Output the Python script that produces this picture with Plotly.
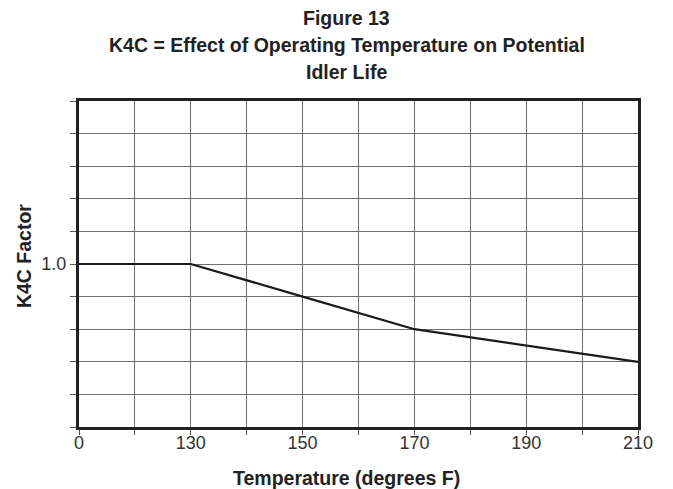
import numpy as np
import plotly.graph_objects as go

# ---- data ----
temps_f = [0, 130, 150, 170, 210]          # temperature (degrees F)
k4c_factor = [1.0, 1.0, 0.9, 0.8, 0.7]     # K4C factor

x_tick_temps = [0, 130, 150, 170, 190, 210]
x_tick_labels = ["0", "130", "150", "170", "190", "210"]

y_tick_vals = [0.5, 0.6, 0.7, 0.8, 0.9, 1.0, 1.1, 1.2, 1.3, 1.4, 1.5]
y_tick_text = ["", "", "", "", "", "1.0", "", "", "", "", ""]

# broken temperature scale: each labelled temperature sits at an even slot
label_slots = [0, 2, 4, 6, 8, 10]
x_pos = np.interp(temps_f, x_tick_temps, label_slots)

grid_slots = list(range(11))
grid_text = []
for s in grid_slots:
    if s in label_slots:
        grid_text.append(x_tick_labels[label_slots.index(s)])
    else:
        grid_text.append("")

fig = go.Figure()
fig.add_trace(go.Scatter(
    x=x_pos, y=k4c_factor, mode="lines",
    line=dict(color="#1a1a1a", width=2.2),
    showlegend=False, hoverinfo="skip",
))

tick_font = dict(family="Liberation Sans, Arial, sans-serif", size=18, color="#333333")

fig.update_xaxes(
    range=[0, 10], tickmode="array", tickvals=grid_slots, ticktext=grid_text,
    showgrid=True, gridcolor="#6e6e6e", gridwidth=1,
    showline=True, linecolor="#222222", linewidth=3, mirror=True,
    ticks="outside", ticklen=5, tickcolor="#555555", tickwidth=1,
    tickfont=tick_font, zeroline=False, fixedrange=True,
    ticklabelstandoff=-8,
)
fig.update_yaxes(
    range=[0.5, 1.5], tickmode="array", tickvals=y_tick_vals, ticktext=y_tick_text,
    showgrid=True, gridcolor="#6e6e6e", gridwidth=1,
    showline=True, linecolor="#222222", linewidth=3, mirror=True,
    ticks="outside", ticklen=6, tickcolor="#555555", tickwidth=1,
    tickfont=tick_font, zeroline=False, fixedrange=True,
)

bold_font = dict(family="Liberation Sans, Arial, sans-serif", size=19.5, color="#222222")
title_lines = ["<b>Figure 13</b>",
               "<b>K4C = Effect of Operating Temperature on Potential</b>",
               "<b>Idler Life</b>"]
title_y = [1.2546, 1.1718, 1.089]
for txt, yy in zip(title_lines, title_y):
    fig.add_annotation(text=txt, xref="paper", yref="paper", x=0.479, y=yy,
                       showarrow=False, font=bold_font, xanchor="center", yanchor="middle")

fig.add_annotation(text="<b>Temperature (degrees F)</b>", xref="paper", yref="paper",
                   x=0.479, y=-0.156, showarrow=False, font=bold_font,
                   xanchor="center", yanchor="middle")
fig.add_annotation(text="<b>K4C Factor</b>", xref="paper", yref="paper",
                   x=-0.098, y=0.525, showarrow=False, font=bold_font, textangle=-90,
                   xanchor="center", yanchor="middle")

fig.update_layout(
    width=673, height=489,
    margin=dict(l=79, r=35, t=101, b=62),
    paper_bgcolor="white", plot_bgcolor="white",
)

# remove the default 8px page margin so the figure fills the window exactly
fig.write_html("out.html",
               config={"displayModeBar": False},
               post_script="document.body.style.margin='0';document.body.style.overflow='hidden';")
